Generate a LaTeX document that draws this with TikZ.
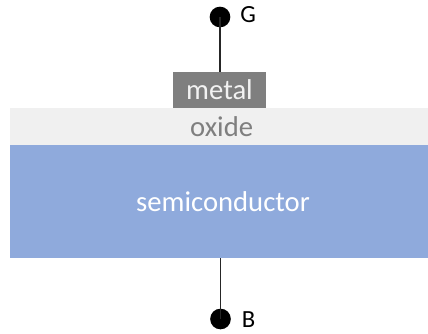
\documentclass[tikz,border=0pt]{standalone}
\usepackage{fontspec}
\setmainfont{Carlito}
\definecolor{metalgray}{HTML}{7F7F7F}
\definecolor{metaltext}{HTML}{F2F2F2}
\definecolor{oxidefill}{HTML}{F0F0F0}
\definecolor{semiblue}{HTML}{8FAADC}
\begin{document}
\begin{tikzpicture}[x=0.75pt,y=-0.75pt,
  layer/.style={rectangle,inner sep=0pt,outer sep=0pt,font=\fontsize{21.5}{24}\selectfont},
  terminal/.style={circle,fill=black,inner sep=0pt,minimum size=15.5pt},
  termlabel/.style={anchor=west,inner sep=0pt,font=\fontsize{18.5}{21}\selectfont},
  wire/.style={draw=black!85,line width=0.8pt}]
\useasboundingbox[fill=white] (0,0) rectangle (428,333);
\node[layer,fill=semiblue,text=white,minimum width=313.5pt,minimum height=84.75pt] (semi) at (219,201.5) {\hspace*{6pt}semiconductor};
\node[layer,fill=oxidefill,text=metalgray,minimum width=313.5pt,minimum height=27.75pt] (oxide) at (219,126.5) {\hspace*{4pt}oxide};
\node[layer,fill=metalgray,text=metaltext,minimum width=69.75pt,minimum height=27pt] (metal) at (219.5,90) {metal};
\node[terminal] (G) at (220,17) {};
\node[terminal] (B) at (220.5,319) {};
\node[termlabel] (Gl) at (240,14.5) {G};
\node[termlabel] (Bl) at (241.5,319.5) {B};
\draw[wire] (G.center) -- (G.center |- metal.north);
\draw[wire] (B.center |- semi.south) -- (B.center);
\end{tikzpicture}
\end{document}
